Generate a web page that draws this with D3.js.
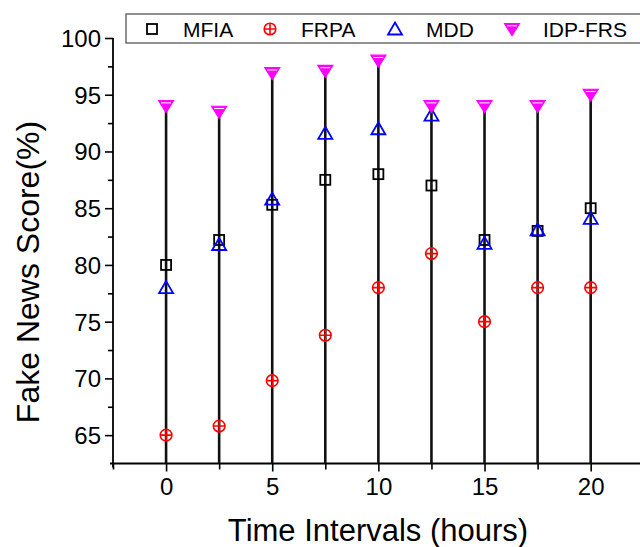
<!DOCTYPE html>
<html><head><meta charset="utf-8">
<script src="https://cdn.jsdelivr.net/npm/d3@7"></script>
<style>body{margin:0;background:#fff}svg{display:block}text{font-family:"Liberation Sans",Arial,sans-serif}</style>
</head><body>
<svg id="c" width="640" height="547"></svg>
<script>
const times = [0, 2.5, 5, 7.5, 10, 12.5, 15, 17.5, 20];
const mfia   = [80, 82.2, 85.3, 87.5, 88, 87, 82.2, 83, 85];
const frpa   = [65, 65.8, 69.8, 73.8, 78, 81, 75, 78, 78];
const mdd    = [78, 81.8, 85.8, 91.6, 92, 93.2, 81.9, 83.1, 84.1];
const idpfrs = [94, 93.5, 96.9, 97.1, 98, 94, 94, 94, 95];
const seriesNames = ["MFIA", "FRPA", "MDD", "IDP-FRS"];
const xMajor = [0, 5, 10, 15, 20];
const xMinor = [-2.5, 2.5, 7.5, 12.5, 17.5];
const yMajor = [65, 70, 75, 80, 85, 90, 95, 100];
const yMinor = [67.5, 72.5, 77.5, 82.5, 87.5, 92.5, 97.5];

const svg = d3.select("#c");
const x = d3.scaleLinear().domain([-2.5, 22.5]).range([113, 643.75]);
const y = d3.scaleLinear().domain([62.5, 100]).range([463.5, 38]);
const x0 = 113, y0 = 463.5;

// axes
const gx = svg.append("g").attr("transform", `translate(0,${y0})`);
gx.call(d3.axisBottom(x).tickValues(xMajor).tickSize(8).tickPadding(6).tickFormat(d3.format("d")));
gx.append("g").call(d3.axisBottom(x).tickValues(xMinor).tickSize(6).tickFormat(""));
gx.selectAll(".domain").remove();
gx.selectAll("text").attr("font-size", 24).attr("fill", "#000").style("font-family", "Liberation Sans, Arial");
gx.selectAll("line").attr("stroke", "#000").attr("stroke-width", 1.6);

const gy = svg.append("g").attr("transform", `translate(${x0},0)`);
gy.call(d3.axisLeft(y).tickValues(yMajor).tickSize(8).tickPadding(4).tickFormat(d3.format("d")));
gy.append("g").call(d3.axisLeft(y).tickValues(yMinor).tickSize(5).tickFormat(""));
gy.selectAll(".domain").remove();
gy.selectAll("text").attr("font-size", 24).attr("fill", "#000").attr("dy", "0.35em").style("font-family", "Liberation Sans, Arial");
gy.selectAll("line").attr("stroke", "#000").attr("stroke-width", 1.6);

svg.append("line").attr("x1", x0 - 3).attr("x2", 640).attr("y1", y0).attr("y2", y0).attr("stroke", "#000").attr("stroke-width", 1.8);
svg.append("line").attr("x1", x0).attr("x2", x0).attr("y1", y(100)).attr("y2", y0 + 4).attr("stroke", "#000").attr("stroke-width", 1.8);

// drop lines
const maxVals = times.map((t, i) => Math.max(mfia[i], frpa[i], mdd[i], idpfrs[i]));
svg.append("g").selectAll("line").data(times).join("line")
  .attr("x1", d => x(d)).attr("x2", d => x(d))
  .attr("y1", y0).attr("y2", (d, i) => y(maxVals[i]))
  .attr("stroke", "#111").attr("stroke-width", 2.6);

// markers
function square(g, cx, cy) {
  g.append("rect").attr("x", cx - 5).attr("y", cy - 5).attr("width", 10).attr("height", 10)
    .attr("fill", "none").attr("stroke", "#000").attr("stroke-width", 1.8);
}
function circPlus(g, cx, cy) {
  g.append("circle").attr("cx", cx).attr("cy", cy).attr("r", 5.8).attr("fill", "none").attr("stroke", "#f00").attr("stroke-width", 1.6);
  g.append("path").attr("d", `M${cx - 5.8},${cy}H${cx + 5.8}M${cx},${cy - 5.8}V${cy + 5.8}`).attr("stroke", "#f00").attr("stroke-width", 1.6);
}
function triUp(g, cx, cy) {
  g.append("path").attr("d", `M${cx},${cy - 6.5}L${cx + 7},${cy + 5.5}L${cx - 7},${cy + 5.5}Z`)
    .attr("fill", "none").attr("stroke", "#00f").attr("stroke-width", 1.8).attr("stroke-linejoin", "miter");
}
function triDown(g, cx, cy) {
  g.append("path").attr("d", `M${cx - 7.5},${cy - 5.5}L${cx + 7.5},${cy - 5.5}L${cx},${cy + 6.5}Z`)
    .attr("fill", "#f0f").attr("stroke", "#f0f").attr("stroke-width", 1.2);
  g.append("line").attr("x1", cx - 5).attr("x2", cx + 5).attr("y1", cy - 3.2).attr("y2", cy - 3.2)
    .attr("stroke", "#fff").attr("stroke-width", 1);
}
const gm = svg.append("g");
times.forEach((t, i) => square(gm, x(t), y(mfia[i])));
times.forEach((t, i) => circPlus(gm, x(t), y(frpa[i])));
times.forEach((t, i) => triUp(gm, x(t), y(mdd[i])));
times.forEach((t, i) => triDown(gm, x(t), y(idpfrs[i])));

// axis titles
svg.append("text").attr("x", 378).attr("y", 541).attr("text-anchor", "middle").attr("font-size", 31).text("Time Intervals (hours)");
svg.append("text").attr("transform", "translate(39,272) rotate(-90)").attr("text-anchor", "middle").attr("font-size", 32).text("Fake News Score(%)");

// legend
const lg = svg.append("g");
lg.append("rect").attr("x", 126).attr("y", 14).attr("width", 520).attr("height", 29).attr("fill", "#fff").attr("stroke", "#555").attr("stroke-width", 1.3);
const legX = [152, 270, 395, 512];
const drawers = [square, circPlus, triUp, triDown];
seriesNames.forEach((n, i) => {
  drawers[i](lg, legX[i], 29);
  lg.append("text").attr("x", legX[i] + 31).attr("y", 29).attr("dy", "0.36em").attr("font-size", 21).text(n);
});
</script>
</body></html>
